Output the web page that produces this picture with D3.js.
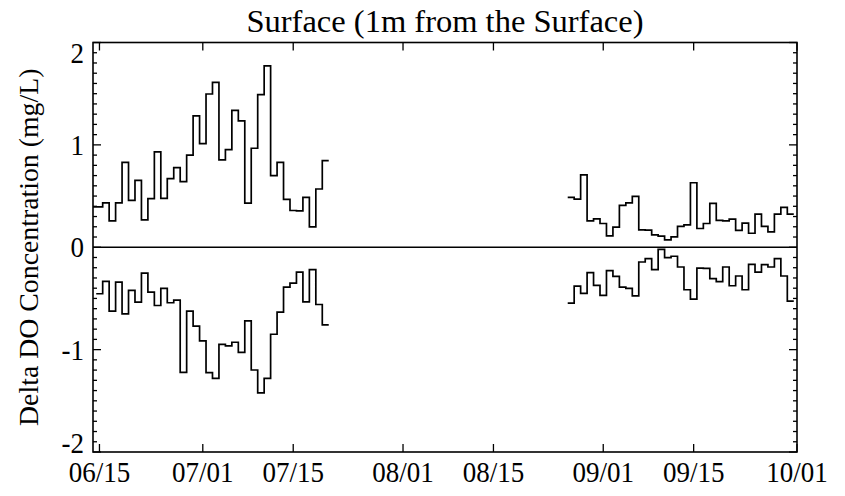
<!DOCTYPE html>
<html>
<head>
<meta charset="utf-8">
<script src="https://cdn.jsdelivr.net/npm/d3@7"></script>
<style>
  body { margin: 0; background: #fff; }
  svg { display: block; }
  text { font-family: "Liberation Serif", "Times New Roman", serif; fill: #000; }
</style>
</head>
<body>
<div id="chart"></div>
<script>
// daily step values (mg/L), one value per day starting at the given date
let upperStart1 = '2010-06-14'
let upperValues1 = [0.395, 0.395, 0.434, 0.258, 0.434, 0.830, 0.457, 0.654, 0.268, 0.474,
  0.931, 0.477, 0.670, 0.778, 0.641, 0.899, 1.284, 1.013, 1.497, 1.611,
  0.853, 0.954, 1.337, 1.235, 0.431, 0.967, 1.490, 1.771, 0.699, 0.830,
  0.467, 0.359, 0.356, 0.487, 0.199, 0.569, 0.846]

let lowerStart1 = '2010-06-15'
let lowerValues1 = [-0.454, -0.333, -0.624, -0.340, -0.650, -0.422, -0.536, -0.252, -0.438, -0.569,
  -0.402, -0.542, -0.516, -1.222, -0.624, -0.771, -0.915, -1.225, -1.281, -0.948,
  -0.964, -0.928, -1.026, -0.719, -1.199, -1.422, -1.281, -0.850, -0.634, -0.389,
  -0.350, -0.242, -0.533, -0.219, -0.559, -0.758]

let upperStart2 = '2010-08-27'
let upperValues2 = [0.487, 0.471, 0.706, 0.258, 0.278, 0.232, 0.111, 0.196, 0.409, 0.434,
  0.497, 0.170, 0.167, 0.121, 0.108, 0.072, 0.101, 0.203, 0.219, 0.630,
  0.183, 0.232, 0.428, 0.262, 0.258, 0.275, 0.164, 0.235, 0.137, 0.324,
  0.203, 0.150, 0.324, 0.389, 0.324]

let lowerStart2 = '2010-08-27'
let lowerValues2 = [-0.546, -0.379, -0.451, -0.248, -0.373, -0.471, -0.229, -0.284, -0.389, -0.402,
  -0.474, -0.144, -0.111, -0.219, -0.020, -0.101, -0.088, -0.193, -0.415, -0.507,
  -0.203, -0.206, -0.307, -0.336, -0.193, -0.376, -0.281, -0.415, -0.167, -0.242,
  -0.170, -0.193, -0.111, -0.281, -0.526]

let xTickDates = ['2010-06-15', '2010-07-01', '2010-07-15', '2010-08-01',
  '2010-08-15', '2010-09-01', '2010-09-15', '2010-10-01']
let yTickValues = [-2, -1, 0, 1, 2]

let title = 'Surface (1m from the Surface)'
let yTitle = 'Delta DO Concentration (mg/L)'

window.addEventListener('load',
  () => {
    let W = 845, H = 496
    let pLeft = 93, pRight = 797, pTop = 42.5, pBottom = 452
    let DAY = 864e5
    let parse = d3.utcParse('%Y-%m-%d')

    let svg = d3.select('#chart')
      .append('svg')
      .attr('width', W)
      .attr('height', H)

    let x = d3.scaleUtc()
      .domain([parse('2010-06-14'), parse('2010-10-01')])
      .range([pLeft, pRight])

    let y = d3.scaleLinear()
      .domain([-2, 2])
      .range([pBottom, pTop])

    svg.append('clipPath')
      .attr('id', 'plotclip')
      .append('rect')
      .attr('x', pLeft)
      .attr('y', pTop)
      .attr('width', pRight - pLeft)
      .attr('height', pBottom - pTop)

    // each value is drawn as a full one-day step centred on its date
    function steps(start, values) {
      let t0 = parse(start).getTime()
      let pts = values.map((v, i) => [new Date(t0 + (i - 0.5) * DAY), v])
      pts.push([new Date(t0 + (values.length - 0.5) * DAY), values[values.length - 1]])
      return pts
    }

    let line = d3.line()
      .x(d => x(d[0]))
      .y(d => y(d[1]))
      .curve(d3.curveStepAfter)

    let plot = svg.append('g').attr('clip-path', 'url(#plotclip)')

    let series = [
      steps(upperStart1, upperValues1),
      steps(lowerStart1, lowerValues1),
      steps(upperStart2, upperValues2),
      steps(lowerStart2, lowerValues2)
    ]

    plot.selectAll('path.series')
      .data(series)
      .join('path')
      .attr('class', 'series')
      .attr('d', line)
      .attr('fill', 'none')
      .attr('stroke', '#000')
      .attr('stroke-width', 1.7)

    // zero line
    plot.append('line')
      .attr('x1', pLeft)
      .attr('x2', pRight)
      .attr('y1', y(0))
      .attr('y2', y(0))
      .attr('stroke', '#000')
      .attr('stroke-width', 1.6)

    // ticks, all pointing inwards
    let xTicks = xTickDates.map(parse)
    let yMinor = d3.range(-20, 21).map(i => i / 10)
    let isMajor = d => Math.abs(d - Math.round(d)) < 1e-6

    let axes = svg.append('g')
      .attr('stroke', '#000')
      .attr('stroke-width', 1.3)

    axes.selectAll('line.xb')
      .data(xTicks)
      .join('line')
      .attr('class', 'xb')
      .attr('x1', d => x(d)).attr('x2', d => x(d))
      .attr('y1', pBottom).attr('y2', pBottom - 8)

    axes.selectAll('line.xt')
      .data(xTicks)
      .join('line')
      .attr('class', 'xt')
      .attr('x1', d => x(d)).attr('x2', d => x(d))
      .attr('y1', pTop).attr('y2', pTop + 8)

    axes.selectAll('line.yl')
      .data(yMinor)
      .join('line')
      .attr('class', 'yl')
      .attr('x1', pLeft)
      .attr('x2', d => pLeft + (isMajor(d) ? 8 : 4))
      .attr('y1', d => y(d)).attr('y2', d => y(d))

    axes.selectAll('line.yr')
      .data(yMinor)
      .join('line')
      .attr('class', 'yr')
      .attr('x1', pRight)
      .attr('x2', d => pRight - (isMajor(d) ? 8 : 4))
      .attr('y1', d => y(d)).attr('y2', d => y(d))

    // frame
    svg.append('rect')
      .attr('x', pLeft)
      .attr('y', pTop)
      .attr('width', pRight - pLeft)
      .attr('height', pBottom - pTop)
      .attr('fill', 'none')
      .attr('stroke', '#000')
      .attr('stroke-width', 1.6)

    // tick labels: slightly condensed serif, like the original
    let fmt = d3.utcFormat('%m/%d')
    let squeeze = 0.9
    svg.selectAll('text.xl')
      .data(xTicks)
      .join('text')
      .attr('class', 'xl')
      .attr('transform', d => 'translate(' + x(d) + ',482) scale(' + squeeze + ',1)')
      .attr('text-anchor', 'middle')
      .attr('font-size', 30)
      .text(d => fmt(d))

    svg.selectAll('text.ylab')
      .data(yTickValues)
      .join('text')
      .attr('class', 'ylab')
      .attr('transform', d => 'translate(' + (pLeft - 9) + ','
        + Math.min(Math.max(y(d), pTop + 10), pBottom - 9) + ') scale(' + squeeze + ',1)')
      .attr('dy', '0.34em')
      .attr('text-anchor', 'end')
      .attr('font-size', 30)
      .text(d => d)

    svg.append('text')
      .attr('x', (pLeft + pRight) / 2)
      .attr('y', 32)
      .attr('text-anchor', 'middle')
      .attr('font-size', 32.5)
      .text(title)

    svg.append('text')
      .attr('transform', 'translate(38,' + ((pTop + pBottom) / 2) + ') rotate(-90)')
      .attr('text-anchor', 'middle')
      .attr('font-size', 27.8)
      .text(yTitle)
  })
</script>
</body>
</html>
